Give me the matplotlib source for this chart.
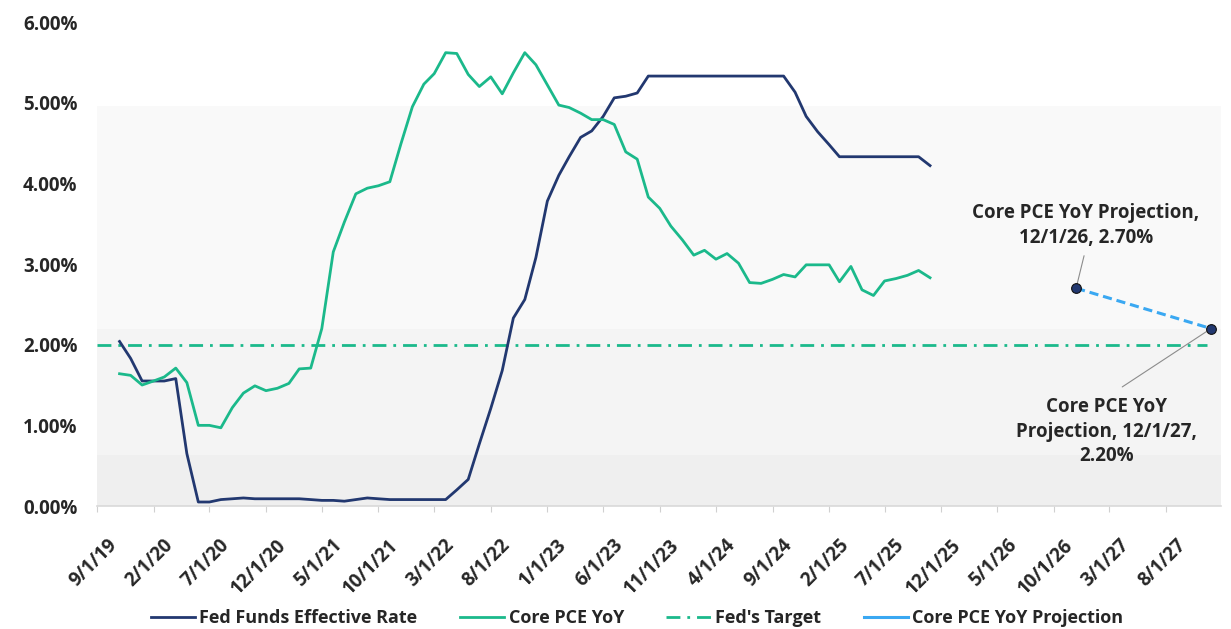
import matplotlib
matplotlib.use('Agg')
import matplotlib.pyplot as plt
import matplotlib.transforms as mtransforms
from matplotlib.font_manager import FontProperties
from matplotlib.lines import Line2D
import pandas as pd

plt.rcParams['font.family'] = ['Open Sans', 'DejaVu Sans']
plt.rcParams['font.weight'] = 'bold'

# 月度数据（图上的位置：2019-11 起，共 73 个月）
hist_dates = pd.date_range('2019-11-01', periods=73, freq='MS')
fed_funds = [2.04, 1.83, 1.55, 1.55,
             1.55, 1.58, 0.65, 0.05, 0.05, 0.08, 0.09, 0.10, 0.09, 0.09, 0.09, 0.09,
             0.09, 0.08, 0.07, 0.07, 0.06, 0.08, 0.10, 0.09, 0.08, 0.08, 0.08, 0.08,
             0.08, 0.08, 0.20, 0.33, 0.77, 1.21, 1.68, 2.33, 2.56, 3.08, 3.78, 4.10,
             4.33, 4.57, 4.65, 4.83, 5.06, 5.08, 5.12, 5.33, 5.33, 5.33, 5.33, 5.33,
             5.33, 5.33, 5.33, 5.33, 5.33, 5.33, 5.33, 5.33, 5.13, 4.83, 4.64, 4.48,
             4.33, 4.33, 4.33, 4.33, 4.33, 4.33, 4.33, 4.33, 4.22]
core_pce = [1.64, 1.62, 1.50, 1.55,
            1.60, 1.71, 1.53, 1.00, 1.00, 0.97, 1.22, 1.40, 1.49, 1.43, 1.46, 1.52,
            1.70, 1.71, 2.20, 3.15, 3.52, 3.87, 3.94, 3.97, 4.02, 4.49, 4.95, 5.23,
            5.36, 5.62, 5.61, 5.35, 5.20, 5.32, 5.11, 5.37, 5.62, 5.47, 5.22, 4.97,
            4.94, 4.87, 4.79, 4.79, 4.73, 4.39, 4.30, 3.83, 3.69, 3.47, 3.30, 3.11,
            3.17, 3.06, 3.13, 3.01, 2.77, 2.76, 2.81, 2.87, 2.84, 2.99, 2.99, 2.99,
            2.78, 2.97, 2.68, 2.61, 2.79, 2.82, 2.86, 2.92, 2.83]

proj_dates = pd.to_datetime(['2026-12-01', '2027-12-01'])
proj_values = [2.70, 2.20]

target_dates = pd.to_datetime(['2019-09-01', '2027-11-20'])
target_values = [2.0, 2.0]

tick_dates = pd.date_range('2019-09-01', '2027-08-01', freq='5MS')
tick_labels = [f"{d.month}/{d.day}/{d.strftime('%y')}" for d in tick_dates]
y_ticks = [0, 1, 2, 3, 4, 5, 6]

# 背景色带
band_edges = [0, 0.63, 2.2, 4.96]
band_colors = ['#efefef', '#f4f4f4', '#f9f9f9']

NAVY = '#223870'
GREEN = '#1bb98b'
BLUE = '#3aa8f2'
TEXT = '#262626'
FS = 13.5

fig = plt.figure(figsize=(12.31, 6.29), dpi=100)
ax = fig.add_axes([0.0788, 0.1955, 0.9131, 0.7695])

x0 = pd.Timestamp('2019-09-01')
x1 = pd.Timestamp('2027-12-28')
for i in range(len(band_colors)):
    ax.fill_between([x0, x1], band_edges[i], band_edges[i + 1],
                    color=band_colors[i], lw=0, zorder=0)

l_target, = ax.plot(target_dates, target_values, color=GREEN, lw=2,
                    dashes=(5, 2.5, 1, 2.5), zorder=2)
l_fed, = ax.plot(hist_dates, fed_funds, color=NAVY, lw=2, zorder=3)
l_pce, = ax.plot(hist_dates, core_pce, color=GREEN, lw=2, zorder=3)
ax.plot(proj_dates, proj_values, color=BLUE, lw=2.2, dashes=(3, 1.6), zorder=3)
ax.plot(proj_dates, proj_values, ls='none', marker='o', ms=7,
        mfc=NAVY, mec='#111111', mew=0.8, zorder=4)

# 注释
ax.annotate('Core PCE YoY Projection,\n12/1/26, 2.70%',
            xy=(proj_dates[0], proj_values[0]),
            xytext=(pd.Timestamp('2026-12-28'), 3.48),
            ha='center', va='center', fontsize=FS, fontweight='bold', color=TEXT,
            linespacing=1.3,
            arrowprops=dict(arrowstyle='-', color='#8c8c8c', lw=0.8,
                            relpos=(0.5, 0), shrinkA=4, shrinkB=3))
ax.annotate('Core PCE YoY\nProjection, 12/1/27,\n2.20%',
            xy=(proj_dates[1], proj_values[1]),
            xytext=(pd.Timestamp('2027-02-21'), 0.92),
            ha='center', va='center', fontsize=FS, fontweight='bold', color=TEXT,
            linespacing=1.3,
            arrowprops=dict(arrowstyle='-', color='#8c8c8c', lw=0.8,
                            relpos=(0.5, 1), shrinkA=10, shrinkB=3))

ax.set_xlim(x0, x1)
ax.set_ylim(0, 6)
ax.set_yticks(y_ticks)
ax.set_yticklabels([f'{v:.2f}%' for v in y_ticks], fontsize=FS, fontweight='bold', color=TEXT)
ax.set_xticks(tick_dates)
ax.set_xticklabels(tick_labels, fontsize=FS, fontweight='bold', color=TEXT,
                   rotation=45, ha='right', rotation_mode='anchor')
ax.tick_params(axis='y', length=0, pad=14)
ax.tick_params(axis='x', length=4, width=0.8, color='#d0d0d0', direction='out', pad=17)
off = mtransforms.ScaledTranslation(7 / 72, 0, fig.dpi_scale_trans)
for lbl in ax.get_xticklabels():
    lbl.set_transform(lbl.get_transform() + off)

for s in ['top', 'right', 'left']:
    ax.spines[s].set_visible(False)
ax.spines['bottom'].set_color('#d9d9d9')
ax.spines['bottom'].set_linewidth(1.2)

# 图例（预测线在图例里是实线）
proj_handle = Line2D([], [], color=BLUE, lw=2.2)
leg_font = FontProperties(family=['Open Sans', 'DejaVu Sans'], weight='bold', size=13)
leg = fig.legend([l_fed, l_pce, l_target, proj_handle],
                 ['Fed Funds Effective Rate', 'Core PCE YoY', "Fed's Target",
                  'Core PCE YoY Projection'],
                 loc='center', bbox_to_anchor=(0.5175, 0.0175), ncol=4, frameon=False,
                 prop=leg_font, handlelength=2.45,
                 handletextpad=0.25, columnspacing=2.35)
for t in leg.get_texts():
    t.set_color(TEXT)

fig.savefig('out.png', dpi=100)
plt.close(fig)
